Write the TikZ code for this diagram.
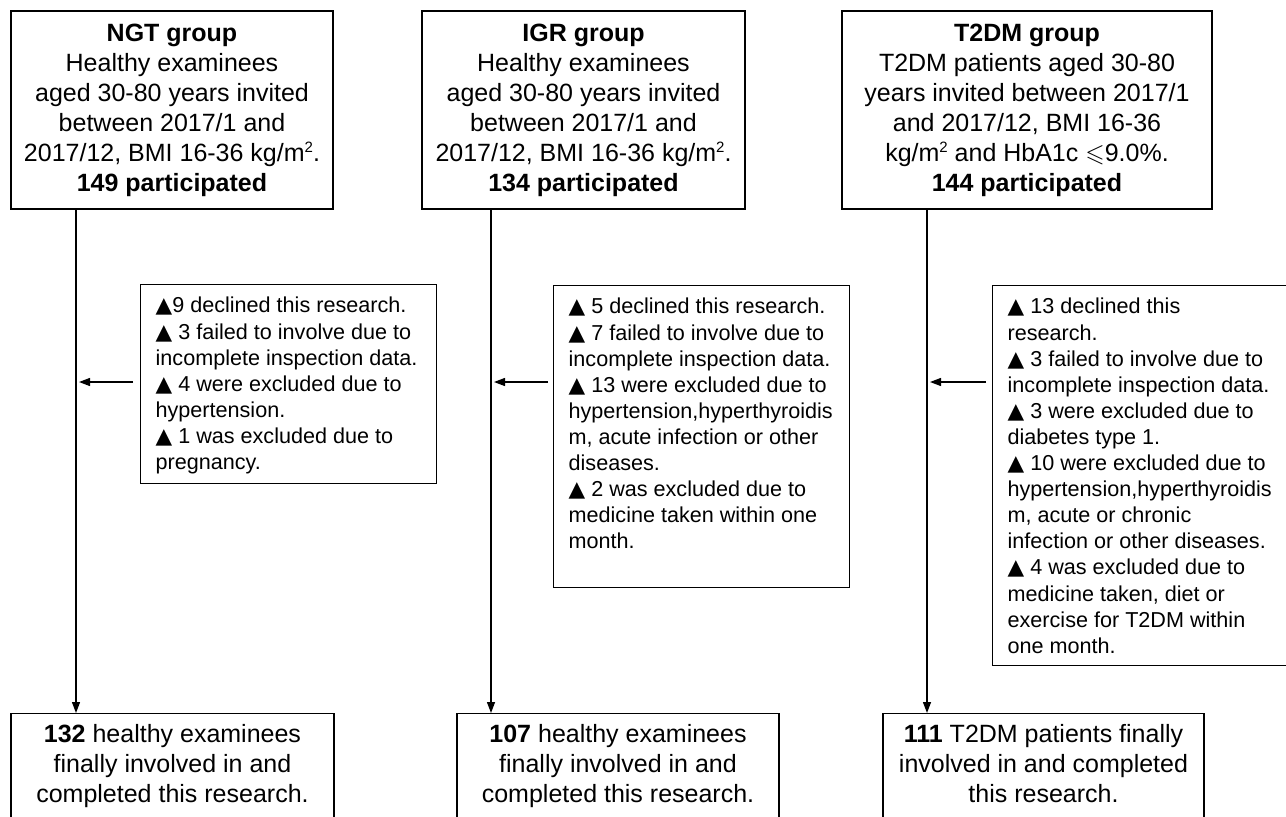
\documentclass[tikz,border=0pt]{standalone}
\usepackage{fontspec}
\setmainfont{Liberation Sans}
\newfontfamily\symfont{DejaVu Sans}
\newcommand{\tri}{{\symfont ▲}}
\newcommand{\sqtwo}{\raisebox{0.36em}{\fontsize{15}{15}\selectfont 2}}
\usepackage{amssymb}
\usetikzlibrary{arrows.meta}
\begin{document}
\begin{tikzpicture}[x=1pt,y=-1pt,
  box/.style={draw, line width=1.3pt},
  topbox/.style={box, inner sep=0pt, align=center, font=\fontsize{25}{30}\selectfont, minimum height=198},
  botbox/.style={box, inner sep=0pt, align=center, font=\fontsize{25}{30}\selectfont, minimum height=106, anchor=north},
  exbox/.style={box, inner xsep=15pt, inner ysep=10pt, anchor=north west, font=\fontsize{21.6}{26.1}\selectfont},
  conn/.style={line width=1.3pt, -{Triangle[length=11pt,width=8pt]}}
]
\useasboundingbox (0,0) rectangle (1286,817);
\clip (0,0) rectangle (1286,817);
\fill[white] (0,0) rectangle (1286,817);

% top boxes
\node[topbox, minimum width=322] (ngt) at (172,110)
  {\textbf{NGT group}\\Healthy examinees\\aged 30-80 years invited\\between 2017/1 and\\2017/12, BMI 16-36 kg/m\sqtwo.\\\textbf{149 participated}};
\node[topbox, minimum width=323] (igr) at (583.5,110)
  {\textbf{IGR group}\\Healthy examinees\\aged 30-80 years invited\\between 2017/1 and\\2017/12, BMI 16-36 kg/m\sqtwo.\\\textbf{134 participated}};
\node[topbox, minimum width=370] (t2) at (1027,110)
  {\textbf{T2DM group}\\T2DM patients aged 30-80\\years invited between 2017/1\\and 2017/12, BMI 16-36\\kg/m\sqtwo\ and HbA1c $\leqslant$9.0\%.\\\textbf{144 participated}};

% exclusion boxes
\node[exbox] (nex) at (140,284) {\parbox[t][179pt][t]{266pt}{\raggedright\strut
  \tri9 declined this research.\\
  \tri\ 3 failed to involve due to\\
  incomplete inspection data.\\
  \tri\ 4 were excluded due to\\
  hypertension.\\
  \tri\ 1 was excluded due to\\
  pregnancy.}};
\node[exbox] (iex) at (553,285) {\parbox[t][282pt][t]{266pt}{\raggedright\strut
  \tri\ 5 declined this research.\\
  \tri\ 7 failed to involve due to\\
  incomplete inspection data.\\
  \tri\ 13 were excluded due to\\
  hypertension,hyperthyroidis\\
  m, acute infection or other\\
  diseases.\\
  \tri\ 2 was excluded due to\\
  medicine taken within one\\
  month.}};
\node[exbox] (tex) at (992,285) {\parbox[t][360pt][t]{300pt}{\raggedright\strut
  \tri\ 13 declined this\\
  research.\\
  \tri\ 3 failed to involve due to\\
  incomplete inspection data.\\
  \tri\ 3 were excluded due to\\
  diabetes type 1.\\
  \tri\ 10 were excluded due to\\
  hypertension,hyperthyroidis\\
  m, acute or chronic\\
  infection or other diseases.\\
  \tri\ 4 was excluded due to\\
  medicine taken, diet or\\
  exercise for T2DM within\\
  one month.}};

% bottom boxes
\node[botbox, minimum width=323] (ngtf) at (172.5,713)
  {\strut\textbf{132} healthy examinees\\finally involved in and\\completed this research.\strut};
\node[botbox, minimum width=322] (igrf) at (618,713)
  {\strut\textbf{107} healthy examinees\\finally involved in and\\completed this research.\strut};
\node[botbox, minimum width=321] (t2f) at (1043.5,713)
  {\strut\textbf{111} T2DM patients finally\\involved in and completed\\this research.\strut};

% connectors
\coordinate (ngtx) at (76,0);
\coordinate (igrx) at (491,0);
\coordinate (t2x) at (927,0);
\coordinate (ay) at (0,382);
\draw[conn] (ngt.south -| ngtx) -- (ngtf.north -| ngtx);
\draw[conn] (igr.south -| igrx) -- (igrf.north -| igrx);
\draw[conn] (t2.south -| t2x) -- (t2f.north -| t2x);
\draw[conn, shorten <=7pt, shorten >=3pt] (nex.west |- ay) -- (ngtx |- ay);
\draw[conn, shorten <=5pt, shorten >=3pt] (iex.west |- ay) -- (igrx |- ay);
\draw[conn, shorten <=6pt, shorten >=3pt] (tex.west |- ay) -- (t2x |- ay);
\end{tikzpicture}
\end{document}
